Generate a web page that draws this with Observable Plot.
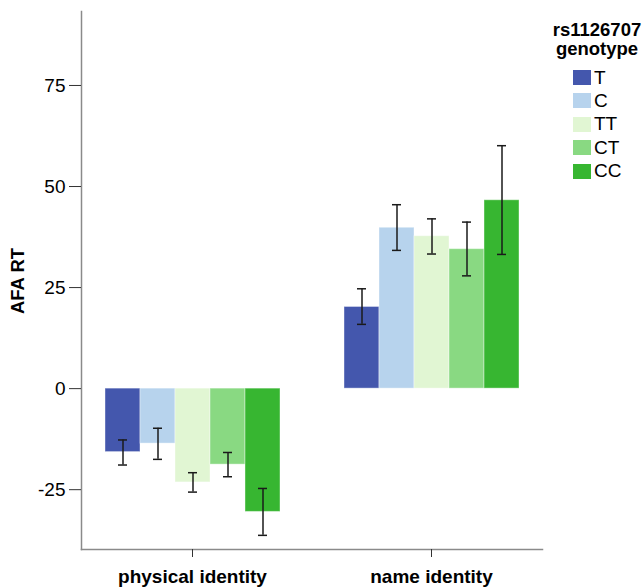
<!DOCTYPE html>
<html>
<head>
<meta charset="utf-8">
<script src="https://cdn.jsdelivr.net/npm/d3@7"></script>
<script src="https://cdn.jsdelivr.net/npm/@observablehq/plot@0.6"></script>
<style>
  html, body { margin: 0; padding: 0; background: #fff; }
  #wrap { position: relative; width: 644px; height: 587px; font-family: "Liberation Sans", Arial, sans-serif; color: #000; }
  #wrap svg { position: absolute; left: 0; top: 0; }
  .ylab { position: absolute; left: 18px; top: 281px; transform: translate(-50%, -50%) rotate(-90deg); font-weight: bold; font-size: 18.5px; white-space: nowrap; }
  .legtitle { position: absolute; left: 547px; top: 20px; width: 100px; text-align: center; font-weight: bold; font-size: 18.5px; line-height: 19px; }
  .legrow { position: absolute; left: 573px; height: 16px; display: flex; align-items: center; font-size: 19px; }
  .legrow .sw { width: 18px; height: 15px; margin-right: 3px; }
</style>
</head>
<body>
<div id="wrap"></div>
<script>
const categories = ["physical identity", "name identity"];
const genotypes = ["T", "C", "TT", "CT", "CC"];
const colors = ["#4457ad", "#b7d3ed", "#e1f6d3", "#89d982", "#37b631"];
const meanPhysical = [-15.7, -13.6, -23.2, -18.8, -30.5];
const lowPhysical  = [-18.9, -17.5, -25.6, -21.8, -36.3];
const highPhysical = [-12.7, -9.8, -20.8, -15.8, -24.7];
const meanName = [20.2, 39.8, 37.7, 34.5, 46.6];
const lowName  = [15.9, 34.2, 33.3, 27.9, 33.2];
const highName = [24.7, 45.5, 42.0, 41.2, 60.1];
const yTicks = [-25, 0, 25, 50, 75];
const yDomain = [-39.8, 93.3];
const legendTitle = ["rs1126707", "genotype"];
const yLabel = "AFA RT";

const rows = [];
genotypes.forEach((g, i) => {
  rows.push({category: categories[0], genotype: g, mean: meanPhysical[i], low: lowPhysical[i], high: highPhysical[i]});
});
genotypes.forEach((g, i) => {
  rows.push({category: categories[1], genotype: g, mean: meanName[i], low: lowName[i], high: highName[i]});
});

const chart = Plot.plot({
  width: 644,
  height: 587,
  marginLeft: 80,
  marginRight: 101,
  marginTop: 11,
  marginBottom: 38,
  style: {fontFamily: "'Liberation Sans', Arial, sans-serif", background: "transparent", overflow: "visible"},
  fx: {domain: categories, paddingInner: 0.0708, paddingOuter: 0, label: null},
  x: {domain: genotypes, paddingInner: 0, paddingOuter: 0.65, axis: null},
  y: {domain: yDomain, label: null},
  color: {domain: genotypes, range: colors},
  marks: [
    Plot.barY(rows, {fx: "category", x: "genotype", y: "mean", fill: "genotype", stroke: "white", strokeOpacity: 0.4, strokeWidth: 1}),
    Plot.ruleX(rows, {fx: "category", x: "genotype", y1: "low", y2: "high", stroke: "#1a1a1a", strokeWidth: 1.5}),
    Plot.tickY(rows, {fx: "category", x: "genotype", y: "low", insetLeft: 13, insetRight: 13, stroke: "#1a1a1a", strokeWidth: 1.5}),
    Plot.tickY(rows, {fx: "category", x: "genotype", y: "high", insetLeft: 13, insetRight: 13, stroke: "#1a1a1a", strokeWidth: 1.5}),
    Plot.frame({anchor: "left", facet: "super", stroke: "#8a8a8a", strokeWidth: 1.5}),
    Plot.frame({anchor: "bottom", facet: "super", stroke: "#8a8a8a", strokeWidth: 1.5}),
    Plot.axisY({ticks: yTicks, tickFormat: d => String(d), tickSize: 12, tickPadding: 4, fontSize: 19, label: null, stroke: "#333", color: "#000"}),
    Plot.axisFx({anchor: "bottom", tickSize: 8, tickPadding: 12, fontSize: 19, fontWeight: "bold", label: null, stroke: "#333", color: "#000"})
  ]
});

const wrap = document.getElementById("wrap");
wrap.appendChild(chart);

const yl = document.createElement("div");
yl.className = "ylab";
yl.textContent = yLabel;
wrap.appendChild(yl);

const lt = document.createElement("div");
lt.className = "legtitle";
lt.innerHTML = legendTitle.join("<br>");
wrap.appendChild(lt);

genotypes.forEach((g, i) => {
  const r = document.createElement("div");
  r.className = "legrow";
  r.style.top = (69.5 + i * 23.4) + "px";
  const sw = document.createElement("div");
  sw.className = "sw";
  sw.style.background = colors[i];
  const t = document.createElement("span");
  t.textContent = g;
  r.appendChild(sw);
  r.appendChild(t);
  wrap.appendChild(r);
});
</script>
</body>
</html>
